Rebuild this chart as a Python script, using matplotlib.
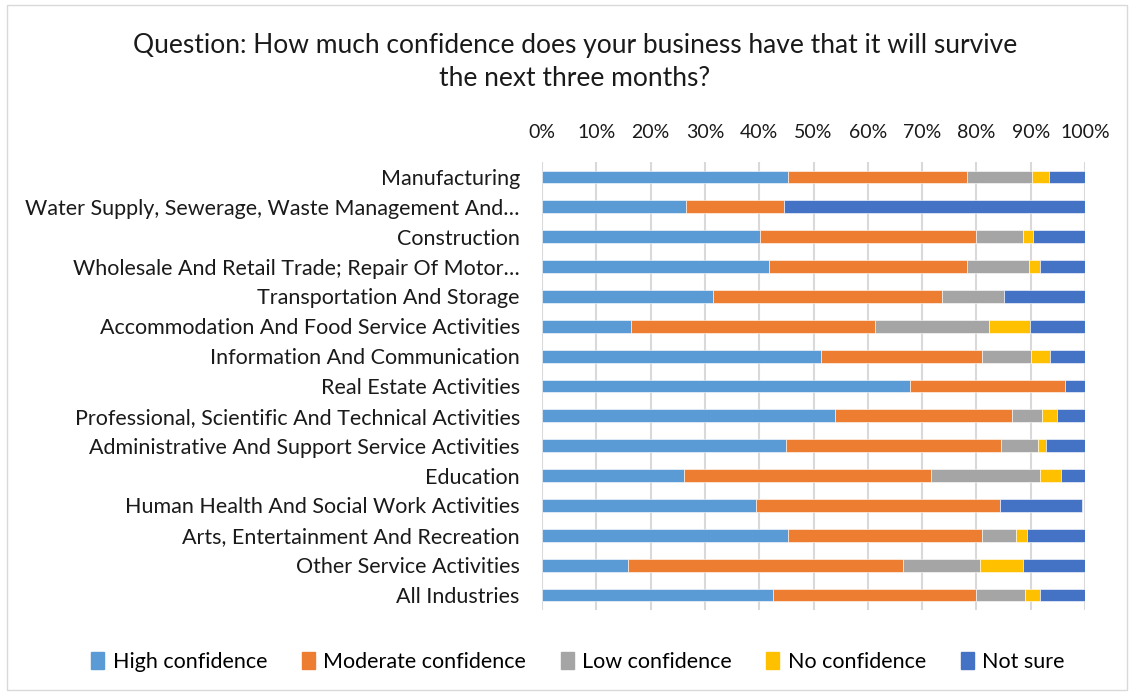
import matplotlib
matplotlib.use("Agg")
import matplotlib.pyplot as plt
import numpy as np
from matplotlib.patches import Rectangle

categories = [
    "Manufacturing",
    "Water Supply, Sewerage, Waste Management And\u2026",
    "Construction",
    "Wholesale And Retail Trade; Repair Of Motor\u2026",
    "Transportation And Storage",
    "Accommodation And Food Service Activities",
    "Information And Communication",
    "Real Estate Activities",
    "Professional, Scientific And Technical Activities",
    "Administrative And Support Service Activities",
    "Education",
    "Human Health And Social Work Activities",
    "Arts, Entertainment And Recreation",
    "Other Service Activities",
    "All Industries",
]

series_names = ["High confidence", "Moderate confidence", "Low confidence", "No confidence", "Not sure"]

high = [45.3, 26.6, 40.2, 41.8, 31.5, 16.3, 51.3, 67.7, 54.0, 45.0, 26.1, 39.4, 45.3, 15.9, 42.5]
moderate = [32.9, 18.0, 39.7, 36.4, 42.1, 45.1, 29.7, 28.7, 32.5, 39.5, 45.6, 44.9, 35.7, 50.6, 37.4]
low = [12.0, 0.0, 8.7, 11.5, 11.4, 20.9, 9.1, 0.0, 5.5, 6.8, 20.0, 0.0, 6.3, 14.2, 9.1]
none_ = [3.1, 0.0, 1.9, 2.1, 0.0, 7.5, 3.5, 0.0, 2.8, 1.6, 3.9, 0.0, 2.1, 7.9, 2.8]
not_sure = [6.7, 55.4, 9.5, 8.2, 15.0, 10.2, 6.4, 3.6, 5.2, 7.1, 4.4, 15.2, 10.6, 11.4, 8.2]

colors = ["#5B9BD5", "#ED7D31", "#A5A5A5", "#FFC000", "#4472C4"]

plt.rcParams['font.family'] = ['Lato', 'DejaVu Sans']

fig = plt.figure(figsize=(11.34, 6.95), dpi=100)
ax = fig.add_axes([542/1134, 1-610/695, (1085-542)/1134, (610-162)/695])

y = np.arange(len(categories))
left = np.zeros(len(categories))
for name, vals, c in zip(series_names, [high, moderate, low, none_, not_sure], colors):
    v = np.array(vals) / 100.0
    ax.barh(y, v, left=left, height=0.43, color=c, label=name,
            edgecolor='white', linewidth=0.4, zorder=3)
    left += v

ax.set_ylim(len(categories) - 0.5, -0.5)
ax.set_xlim(0, 1)
ax.set_yticks(y)
ax.set_yticklabels(categories, fontsize=15.5, color='#1a1a1a')
ax.set_xticks(np.linspace(0, 1, 11))
ax.set_xticklabels([f"{int(t)}%" for t in np.linspace(0, 100, 11)], fontsize=14, color='#1a1a1a')
ax.xaxis.tick_top()
ax.tick_params(axis='x', length=0, pad=15)
ax.tick_params(axis='y', length=0, pad=16)
ax.grid(axis='x', color='#D9D9D9', linewidth=1.5, zorder=0)
for s in ax.spines.values():
    s.set_visible(False)

fig.text(575/1134, 1-45/695, "Question: How much confidence does your business have that it will survive",
         ha='center', va='center', fontsize=19, color='#1a1a1a')
fig.text(575/1134, 1-78/695, "the next three months?",
         ha='center', va='center', fontsize=19, color='#1a1a1a')

handles = [Rectangle((0, 0), 1, 1, color=c) for c in colors]
fig.legend(handles, series_names, loc='center', bbox_to_anchor=(578/1134, 1-662/695), ncol=5,
           frameon=False, fontsize=15.5, handlelength=0.6, handleheight=0.8,
           handletextpad=0.4, columnspacing=1.6)

border = Rectangle((7/1134, 5/695), 1120/1134, 685/695, transform=fig.transFigure,
                   fill=False, edgecolor='#D9D9D9', linewidth=1)
fig.patches.append(border)

fig.savefig("out.png", dpi=100, facecolor='white')
